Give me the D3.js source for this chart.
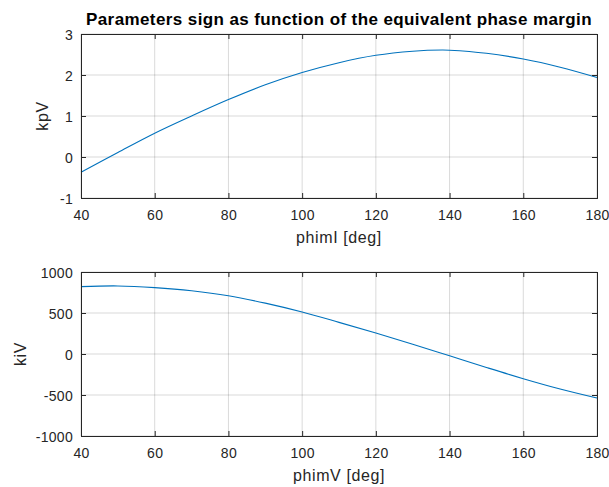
<!DOCTYPE html>
<html><head><meta charset="utf-8">
<script src="https://cdn.jsdelivr.net/npm/d3@7"></script>
<style>body{margin:0;background:#fff}svg{display:block}</style>
</head><body>
<script>
const phi = [40,50,60,70,80,90,100,110,120,130,138,140,150,160,170,180];
const kpV = [-0.37,0.11,0.58,1.0,1.40,1.76,2.06,2.30,2.48,2.58,2.61,2.605,2.53,2.39,2.19,1.94];
const phiV = [40,50,60,70,80,90,100,110,120,130,140,150,160,170,180];
const kiV = [822,830,810,772,711,620,512,386,256,120,-22,-164,-301,-427,-537];
const xTicks = [40,60,80,100,120,140,160,180];
const yTicksTop = [-1,0,1,2,3];
const yTicksBot = [-1000,-500,0,500,1000];

const W=609,H=487;
const svg=d3.select("body").append("svg").attr("width",W).attr("height",H);
const font="'Liberation Sans', Arial, Helvetica, sans-serif";
const L=81,R=597;
const fmt=d=>String(d);

function panel(top,bottom,xs,ys,yDom,yTicks,xlabel,ylabel,ylabelX){
  const x=d3.scaleLinear().domain([40,180]).range([L,R]);
  const y=d3.scaleLinear().domain(yDom).range([bottom,top]);
  const g=svg.append("g");
  // grid
  g.selectAll(".gx").data(xTicks).join("line").attr("x1",d=>x(d)).attr("x2",d=>x(d))
    .attr("y1",top).attr("y2",bottom).attr("stroke","#000").attr("stroke-opacity",0.15).attr("stroke-width",1);
  g.selectAll(".gy").data(yTicks).join("line").attr("y1",d=>y(d)).attr("y2",d=>y(d))
    .attr("x1",L).attr("x2",R).attr("stroke","#000").attr("stroke-opacity",0.15).attr("stroke-width",1);
  // line
  const line=d3.line().x((d,i)=>x(xs[i])).y(d=>y(d)).curve(d3.curveCatmullRom.alpha(0.5));
  g.append("path").datum(ys).attr("d",line).attr("fill","none").attr("stroke","#0072BD").attr("stroke-width",1.1);
  // axes
  const ax=g.append("g").attr("transform",`translate(0,${bottom})`)
    .call(d3.axisBottom(x).tickValues(xTicks).tickSize(-5).tickFormat(fmt));
  ax.selectAll("text").attr("y",22).attr("dy",null);
  const axT=g.append("g").attr("transform",`translate(0,${top})`)
    .call(d3.axisTop(x).tickValues(xTicks).tickSize(-5).tickFormat(""));
  const ay=g.append("g").attr("transform",`translate(${L},0)`)
    .call(d3.axisLeft(y).tickValues(yTicks).tickSize(-5).tickFormat(fmt));
  ay.selectAll("text").attr("x",-8).attr("dy","0.36em");
  const ayR=g.append("g").attr("transform",`translate(${R},0)`)
    .call(d3.axisRight(y).tickValues(yTicks).tickSize(-5).tickFormat(""));
  [ax,axT,ay,ayR].forEach(a=>{
    a.select(".domain").attr("stroke","#262626").attr("stroke-width",1);
    a.selectAll(".tick line").attr("stroke","#262626");
    a.selectAll("text").attr("fill","#262626").style("font-family",font).style("font-size","14px").style("letter-spacing","0.3px");
  });
  g.append("text").attr("x",(L+R)/2).attr("y",bottom+45).attr("text-anchor","middle")
    .attr("fill","#262626").style("font-family",font).style("font-size","16px").style("letter-spacing","0.6px").text(xlabel);
  g.append("text").attr("transform",`translate(${ylabelX},${(top+bottom)/2}) rotate(-90)`)
    .attr("text-anchor","middle").attr("fill","#262626").style("font-family",font).style("font-size","16px").style("letter-spacing","0.6px").text(ylabel);
}

panel(34,198,phi,kpV,[-1,3],yTicksTop,"phimI [deg]","kpV",48);
panel(272,436,phiV,kiV,[-1000,1000],yTicksBot,"phimV [deg]","kiV",26);

svg.append("text").attr("x",(L+R)/2).attr("y",25).attr("text-anchor","middle")
  .attr("fill","#000").style("font-family",font).style("font-weight","bold").style("font-size","17px").style("letter-spacing","0.4px")
  .text("Parameters sign as function of the equivalent phase margin");
</script>
</body></html>
